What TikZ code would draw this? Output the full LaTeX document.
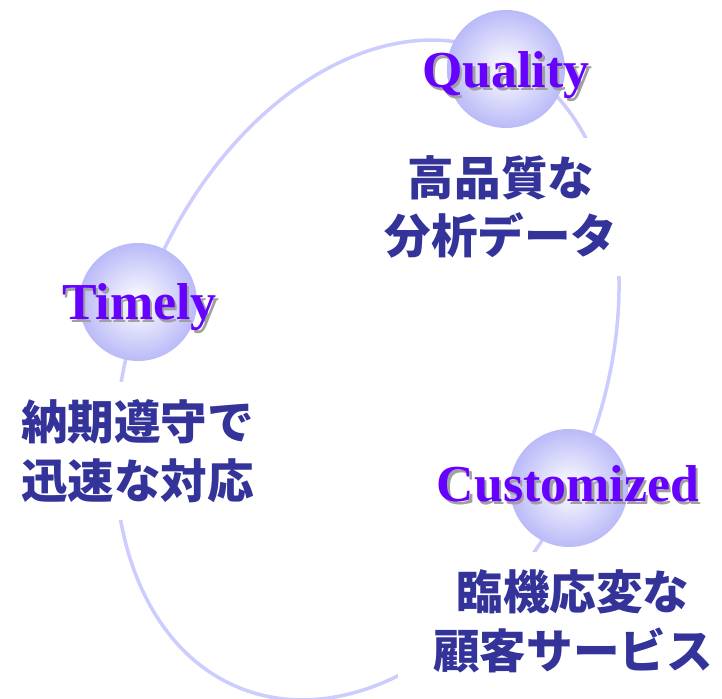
\documentclass[tikz,border=0pt]{standalone}
\usepackage{fontspec}
\setmainfont{Liberation Serif}
\newfontfamily\jpfont{Noto Sans CJK JP}
\usetikzlibrary{positioning}

\definecolor{ringline}{RGB}{204,204,255}
\definecolor{ballrim}{RGB}{186,186,248}
\definecolor{keyviolet}{RGB}{102,0,255}
\definecolor{jpblue}{RGB}{51,51,153}
\definecolor{shadowgray}{RGB}{160,160,160}

\tikzset{
	ring/.style={draw=ringline, line width=2pt},
	ball/.style={circle, inner sep=0pt, minimum size=2.36cm, shade, inner color=white, outer color=ballrim},
	keyword/.style={anchor=base, inner sep=0pt, text=keyviolet, font=\bfseries\fontsize{29.5pt}{30pt}\selectfont},
	keyshadow/.style={keyword, text=shadowgray},
	jpbox/.style={fill=white, align=center, text=jpblue, inner xsep=0.7cm, inner ysep=0.35cm,
	              font=\jpfont\bfseries\fontsize{26.5pt}{33.5pt}\selectfont}
}

\begin{document}
\begin{tikzpicture}
	\useasboundingbox (0,0) rectangle (14.44,13.98);

	% the big loop
	\draw[ring] (7.34,6.58) ellipse [x radius=4.69cm, y radius=6.85cm, rotate=-21.7];

	\begin{scope}[every node/.style={ball}]
		\node (qball) at (10.12,12.60) {};
		\node (tball) at (2.76,7.94) {};
		\node (cball) at (11.38,4.22) {};
	\end{scope}

	\node[jpbox] (qtext) at (10.02,9.84) {高品質な\\分析データ};
	\node[jpbox] (ttext) at (2.75,4.96) {納期遵守で\\迅速な対応};
	\node[jpbox] (ctext) at (11.46,1.56) {臨機応変な\\顧客サービス};

	% titles with a drop shadow
	\node[keyshadow] (qshadow) at (10.17,12.17) {Quality};
	\node[keyword] (quality) at (10.12,12.22) {Quality};
	\node[keyshadow] (tshadow) at (2.84,7.53) {Timely};
	\node[keyword] (timely) at (2.79,7.58) {Timely};
	\node[keyshadow] (cshadow) at (11.41,3.89) {Customized};
	\node[keyword] (customized) at (11.36,3.94) {Customized};
\end{tikzpicture}
\end{document}
